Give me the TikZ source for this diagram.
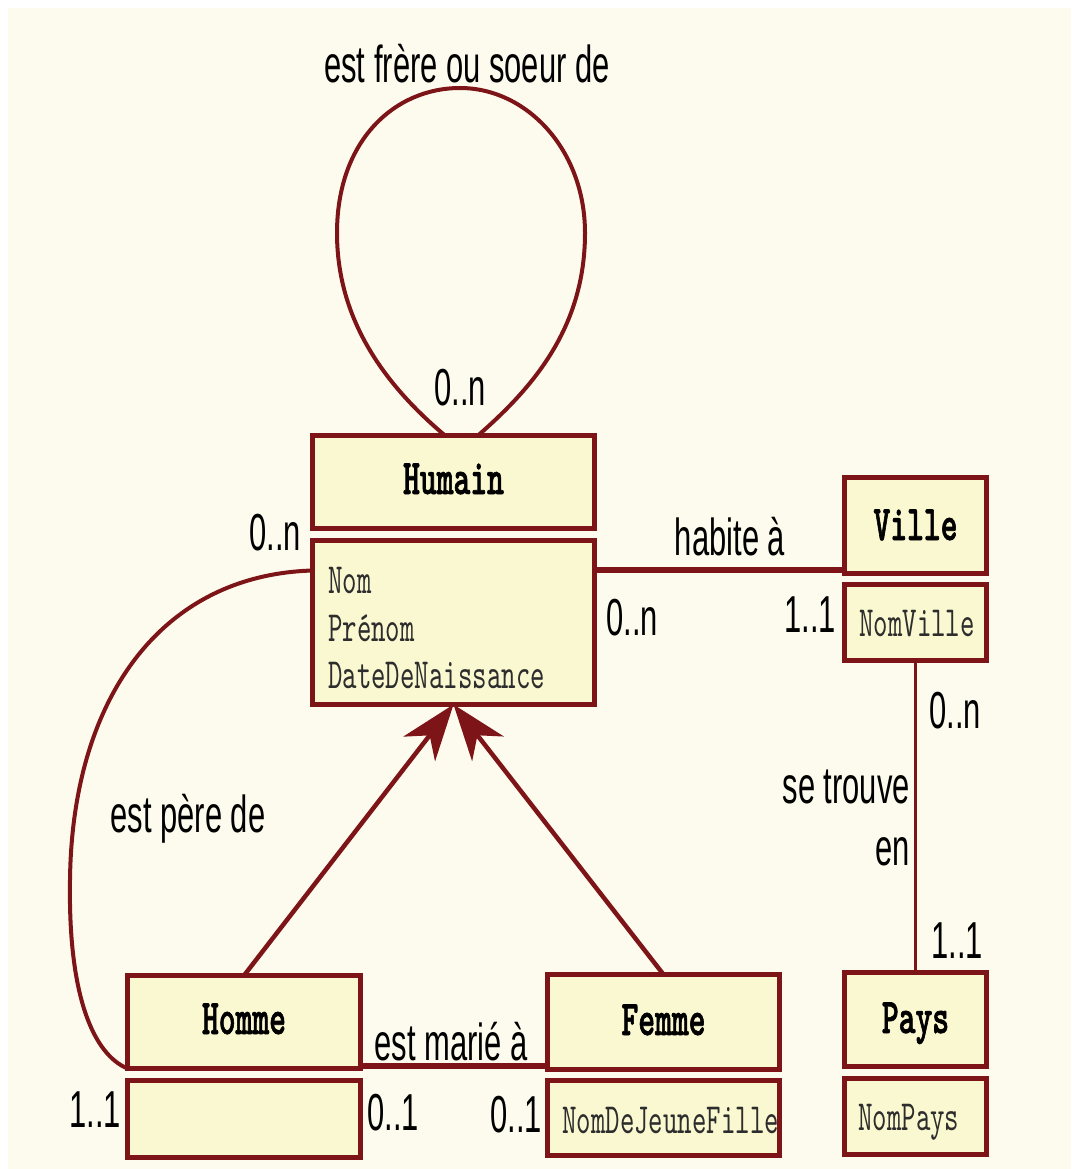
\documentclass[tikz,border=0pt]{standalone}
\usepackage{fontspec}
\usetikzlibrary{arrows.meta,calc}
\newfontfamily\labfont[FakeStretch=0.595]{Liberation Sans}
\newfontfamily\boxfont{lmmono10-regular.otf}[BoldFont=lmmonolt10-bold.otf,BoldFeatures={FakeBold=1.2},FakeStretch=0.64]
\definecolor{bg}{RGB}{253,251,238}
\definecolor{boxfill}{RGB}{250,248,208}
\definecolor{dred}{RGB}{125,21,24}
\definecolor{attrgray}{RGB}{45,45,45}
\begin{document}
\begin{tikzpicture}[x=1pt,y=-1pt,
  box/.style={draw=dred,fill=boxfill,line width=5pt,inner sep=0pt,outer sep=0pt},
  ttl/.style={font=\boxfont\bfseries\fontsize{50}{54}\selectfont,text=black,inner sep=0pt,anchor=base},
  attr/.style={font=\boxfont\fontsize{43}{48}\selectfont,text=attrgray,inner sep=0pt,anchor=base west},
  lab/.style={font=\labfont\fontsize{52}{56}\selectfont,text=black,inner sep=0pt,anchor=base},
  rel/.style={draw=dred,line width=4pt},
  relthick/.style={draw=dred,line width=6pt},
  relthin/.style={draw=dred,line width=3pt},
  inh/.style={draw=dred,line width=4.5pt,-{Stealth[length=56pt,width=40pt,inset=17pt]}}]
\useasboundingbox (0,0) rectangle (1071,1169);
\fill[white] (0,0) rectangle (1071,1169);
\fill[bg] (8,8) rectangle (1071,1169);

% boxes
\node[box,minimum width=282pt,minimum height=93pt] (humT) at (453.5,482) {};
\node[box,minimum width=282pt,minimum height=164pt] (humA) at (453.5,622.5) {};
\node[box,minimum width=142pt,minimum height=96pt] (vilT) at (915.5,525.5) {};
\node[box,minimum width=142pt,minimum height=76pt] (vilA) at (915.5,622.5) {};
\node[box,minimum width=142pt,minimum height=94pt] (payT) at (915.5,1019.5) {};
\node[box,minimum width=142pt,minimum height=76pt] (payA) at (915.5,1116.5) {};
\node[box,minimum width=233pt,minimum height=93pt] (homT) at (244,1022) {};
\node[box,minimum width=233pt,minimum height=77pt] (homA) at (244,1119) {};
\node[box,minimum width=232pt,minimum height=95pt] (femT) at (663.5,1022) {};
\node[box,minimum width=232pt,minimum height=75pt] (femA) at (663.5,1118) {};

% titles
\node[ttl] (tHum) at (453.5,494) {Humain};
\node[ttl] (tVil) at (915.5,540) {Ville};
\node[ttl] (tPay) at (915.5,1033) {Pays};
\node[ttl] (tHom) at (244,1034) {Homme};
\node[ttl] (tFem) at (663.5,1035) {Femme};

% attributes
\node[attr] (aNom) at (328,593) {Nom};
\node[attr] (aPre) at (328,641) {Prénom};
\node[attr] (aDat) at (328,688) {DateDeNaissance};
\node[attr] (aVil) at (859,636) {NomVille};
\node[attr] (aPay) at (858,1130) {NomPays};
\node[attr] (aFem) at (562,1133) {NomDeJeuneFille};

% self loop
\draw[rel] ([xshift=-8.5pt]humT.north) .. controls (385,385) and (337,320) .. (337,233)
  .. controls (337,140) and (395,88) .. (460,88)
  .. controls (527,88) and (585,150) .. (585,233)
  .. controls (585,330) and (530,390) .. ([xshift=24.5pt]humT.north);

% habite a
\coordinate (hA) at ($(humA.east)+(0,-52.5)$);
\draw[relthick] (hA) -- (hA -| vilT.west);

% se trouve en
\draw[relthin] (vilA.south) -- (payT.north);

% est marie a
\coordinate (mA) at ($(homT.east)+(0,44)$);
\draw[relthick] (mA) -- (mA -| femT.west);

% est pere de
\coordinate (pA) at ($(humA.west)+(0,-52)$);
\draw[rel] (pA) .. controls (160,575) and (72,700) .. (70,880)
  .. controls (68,1000) and (95,1055) .. (homT.south west);

% inheritance
\draw[inh] (homT.north) -- (humA.south);
\draw[inh] (femT.north) -- (humA.south);

% labels
\node[lab] (lFrere) at (467,83) {est frère ou soeur de};
\node[lab] (lLoop) at (460,405) {0..n};
\node[lab] (lPere0) at (275,550) {0..n};
\node[lab] (lHab) at (730,555) {habite à};
\node[lab] (lHab0) at (632,635) {0..n};
\node[lab] (lHab1) at (810,632) {1..1};
\node[lab] (lSe0) at (955,728) {0..n};
\node[lab,anchor=base east] (lSe1) at (910,803) {se trouve};
\node[lab,anchor=base east] (lSe2) at (910,865) {en};
\node[lab] (lSe3) at (957,958) {1..1};
\node[lab] (lPere) at (188,832) {est père de};
\node[lab] (lPere1) at (95,1127) {1..1};
\node[lab] (lMar) at (451,1060) {est marié à};
\node[lab] (lMar0) at (393,1130) {0..1};
\node[lab] (lMar1) at (516,1132) {0..1};
\end{tikzpicture}
\end{document}
